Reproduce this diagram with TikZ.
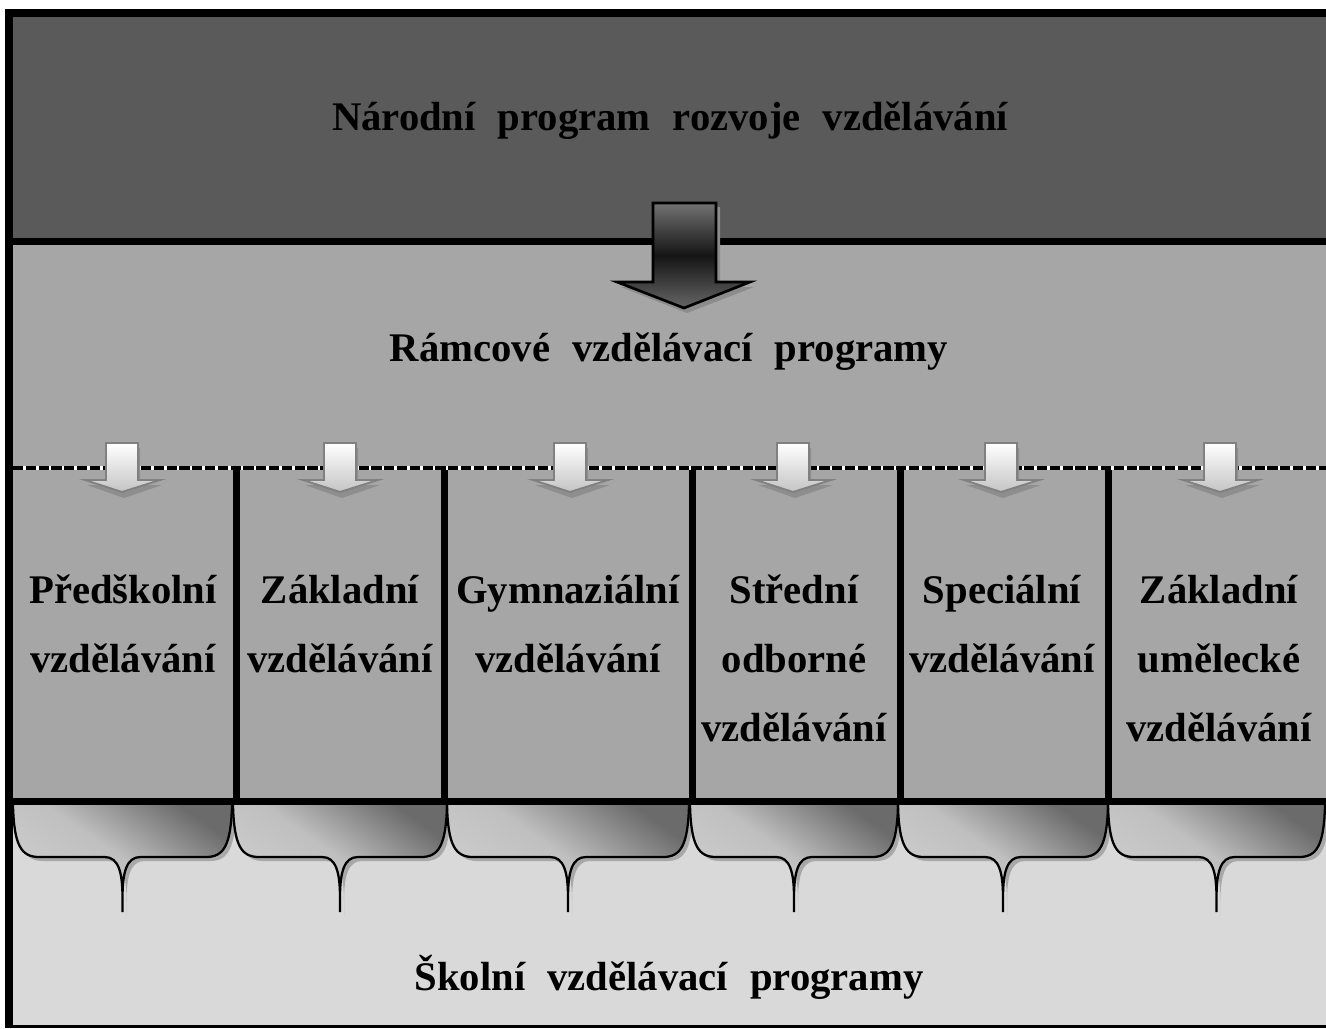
\documentclass[tikz,border=0pt]{standalone}
\usepackage{fontspec}
\setmainfont{Liberation Serif}
\newcommand{\widesp}{\spaceskip=16.5pt\relax}
% brace below one column: #1 left edge, #2 right edge
\newcommand{\bracepath}[2]{(#1,805) .. controls (#1+1,845) and (#1+8,857) .. (#1+26,857)
  -- ({(#1+#2)/2-18},857) .. controls ({(#1+#2)/2-4},857) and ({(#1+#2)/2},872) .. ({(#1+#2)/2},898)
  -- ({(#1+#2)/2},912) -- ({(#1+#2)/2},898)
  .. controls ({(#1+#2)/2},872) and ({(#1+#2)/2+4},857) .. ({(#1+#2)/2+18},857)
  -- (#2-26,857) .. controls (#2-8,857) and (#2-1,845) .. (#2,805)}
\begin{document}
\begin{tikzpicture}[x=0.75pt,y=-0.75pt,font=\bfseries\fontsize{30.5}{51.75}\selectfont,
  bracefill/.style={top color=black!58,bottom color=black!19,middle color=black!25,shading angle=-35},
  widespace/.style={execute at begin node=\widesp},
  downarrow/.pic={
    \fill[arrowshade] (-15,5) -- (18,5) -- (18,42) -- (40,42) -- (2,55) -- (-35,42) -- (-15,42) -- cycle;
    \shade[top color=white,bottom color=arrowlow,draw=arrowedge,line width=1.4pt]
      (-16,0) -- (16,0) -- (16,37) -- (38,37) -- (0,49) -- (-37,37) -- (-16,37) -- cycle;
  }]
  \definecolor{nrvgray}{HTML}{5A5A5A}
  \definecolor{rvpgray}{HTML}{A6A6A6}
  \definecolor{svpgray}{HTML}{D9D9D9}
  \definecolor{arrowlow}{HTML}{C4C4C4}
  \definecolor{arrowedge}{HTML}{808080}
  \definecolor{arrowshade}{HTML}{8E8E8E}
  \definecolor{braceshade}{HTML}{A8A8A8}
  \path[use as bounding box] (0,0) rectangle (1326,1028);
  % frame and the three levels
  \fill[black] (5,9) rectangle (1326,1028);
  \fill[nrvgray] (13,17) rectangle (1326,238);
  \fill[rvpgray] (13,245) rectangle (1326,798);
  \fill[svpgray] (13,805) rectangle (1326,1025);
  \fill[black] (232.5,467) rectangle (239.5,798);
  \fill[black] (440.5,467) rectangle (447.5,798);
  \fill[black] (688.5,467) rectangle (695.5,798);
  \fill[black] (896.5,467) rectangle (903.5,798);
  \fill[black] (1104.5,467) rectangle (1111.5,798);
  \draw[white,line width=2.4pt] (13,468) -- (1326,468);
  \draw[black,line width=2.4pt,dash pattern=on 7.6pt off 2pt] (13,468) -- (1326,468);
  % small arrows
  \pic at (122,443) {downarrow};
  \pic at (340,443) {downarrow};
  \pic at (570,443) {downarrow};
  \pic at (793,443) {downarrow};
  \pic at (1001,443) {downarrow};
  \pic at (1220,443) {downarrow};
  % big arrow
  \fill[black!45] (656,207) -- (720,207) -- (720,287) -- (754,287) -- (687,313) -- (621,287) -- (656,287) -- cycle;
  \shade[top color=black!55,bottom color=black!60,middle color=black!92,draw=black,line width=2pt]
    (653,203) -- (716,203) -- (716,282) -- (750,282) -- (684,308) -- (617,282) -- (653,282) -- cycle;
  % braces
  \fill[braceshade,shift={(4,4)}] \bracepath{13}{232};
  \fill[braceshade,shift={(4,4)}] \bracepath{233}{447};
  \fill[braceshade,shift={(4,4)}] \bracepath{447}{689};
  \fill[braceshade,shift={(4,4)}] \bracepath{690}{898};
  \fill[braceshade,shift={(4,4)}] \bracepath{898}{1108};
  \fill[braceshade,shift={(4,4)}] \bracepath{1108}{1325};
  \shade[bracefill] \bracepath{13}{232};
  \shade[bracefill] \bracepath{233}{447};
  \shade[bracefill] \bracepath{447}{689};
  \shade[bracefill] \bracepath{690}{898};
  \shade[bracefill] \bracepath{898}{1108};
  \shade[bracefill] \bracepath{1108}{1325};
  \draw[black,line width=1.7pt] \bracepath{13}{232};
  \draw[black,line width=1.7pt] \bracepath{233}{447};
  \draw[black,line width=1.7pt] \bracepath{447}{689};
  \draw[black,line width=1.7pt] \bracepath{690}{898};
  \draw[black,line width=1.7pt] \bracepath{898}{1108};
  \draw[black,line width=1.7pt] \bracepath{1108}{1325};
  % texts
  \node[anchor=base,widespace] (nprv) at (670,130) {Národní program rozvoje vzdělávání};
  \node[anchor=base,widespace] (rvp) at (669,361) {Rámcové vzdělávací programy};
  \node[anchor=base,align=center] (predsk) at (123,672) {Předškolní\\vzdělávání};
  \node[anchor=base,align=center] (zakl) at (340,672) {Základní\\vzdělávání};
  \node[anchor=base,align=center] (gymn) at (568,672) {Gymnaziální\\vzdělávání};
  \node[anchor=base,align=center] (stred) at (794,741) {Střední\\odborné\\vzdělávání};
  \node[anchor=base,align=center] (spec) at (1002,672) {Speciální\\vzdělávání};
  \node[anchor=base,align=center] (zus) at (1219,741) {Základní\\umělecké\\vzdělávání};
  \node[anchor=base,widespace] (svp) at (669,990) {Školní vzdělávací programy};
\end{tikzpicture}
\end{document}
